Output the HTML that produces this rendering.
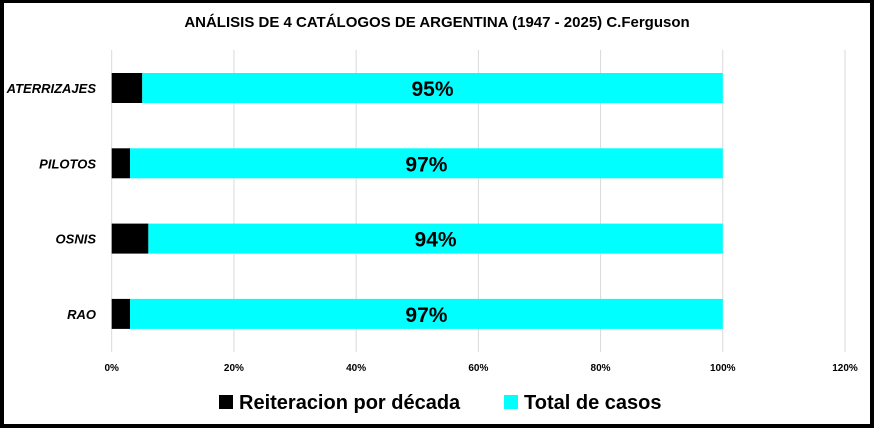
<!DOCTYPE html>
<html><head><meta charset="utf-8"><style>
body{margin:0;width:874px;height:428px;overflow:hidden;background:#fff;font-family:"Liberation Sans",sans-serif;}
#frame{position:absolute;left:0;top:0;width:866px;height:421px;border:solid #000;border-width:3px 4px 4px 4px;background:#fff;}
</style></head><body>
<div id="frame"></div>
<svg id="chart" width="874" height="428" style="position:absolute;left:0;top:0">
<text x="437" y="27" text-anchor="middle" font-size="15" font-weight="bold">ANÁLISIS DE 4 CATÁLOGOS DE ARGENTINA (1947 - 2025) C.Ferguson</text>
<g id="grid"></g><g id="bars"></g><g id="ticks"></g>
<g>
<rect x="219" y="395" width="14" height="14" fill="#000"/>
<text x="239" y="409" font-size="20" font-weight="bold">Reiteracion por década</text>
<rect x="504" y="395" width="14" height="14" fill="#00ffff"/>
<text x="524" y="409" font-size="20" font-weight="bold">Total de casos</text>
</g>
</svg>
<script>
const categories=["ATERRIZAJES","PILOTOS","OSNIS","RAO"];
const reiteracion=[5,3,6,3];
const total=[95,97,94,97];
const tickValues=[0,20,40,60,80,100,120];
const ns="http://www.w3.org/2000/svg";
const x0=111.7,pxPer=(845-111.7)/120;
const xs=v=>x0+v*pxPer;
const yc=i=>88+i*75.3;
function mk(tag,attrs,parent){const e=document.createElementNS(ns,tag);for(const k in attrs)e.setAttribute(k,attrs[k]);parent.appendChild(e);return e;}
const grid=document.getElementById('grid'),bars=document.getElementById('bars'),ticks=document.getElementById('ticks');
tickValues.forEach(v=>{
 const l=mk('line',{x1:xs(v),x2:xs(v),y1:50,y2:352,stroke:'#d9d9d9','stroke-width':1},grid);
 
 
 const t=mk('text',{x:xs(v),y:371,'text-anchor':'middle','font-size':10,'font-weight':'bold'},ticks);
 t.textContent=v+'%';
 
 
});
categories.forEach((c,i)=>{
 const y=yc(i);
 const lab=mk('text',{x:96,y:y+5,'text-anchor':'end','font-size':13,'font-weight':'bold','font-style':'italic'},ticks);
 lab.textContent=c;
 
 
 const b1=mk('rect',{x:xs(0),y:y-15,width:xs(reiteracion[i])-xs(0),height:30,fill:'#000'},bars);
 
 
 const b2=mk('rect',{x:xs(reiteracion[i]),y:y-15,width:xs(reiteracion[i]+total[i])-xs(reiteracion[i]),height:30,fill:'#00ffff'},bars);
 
 
 const vl=mk('text',{x:(xs(reiteracion[i])+xs(reiteracion[i]+total[i]))/2,y:y+8,'text-anchor':'middle','font-size':21,'font-weight':'bold'},bars);
 vl.textContent=total[i]+'%';
 
 
});
</script>
</body></html>
